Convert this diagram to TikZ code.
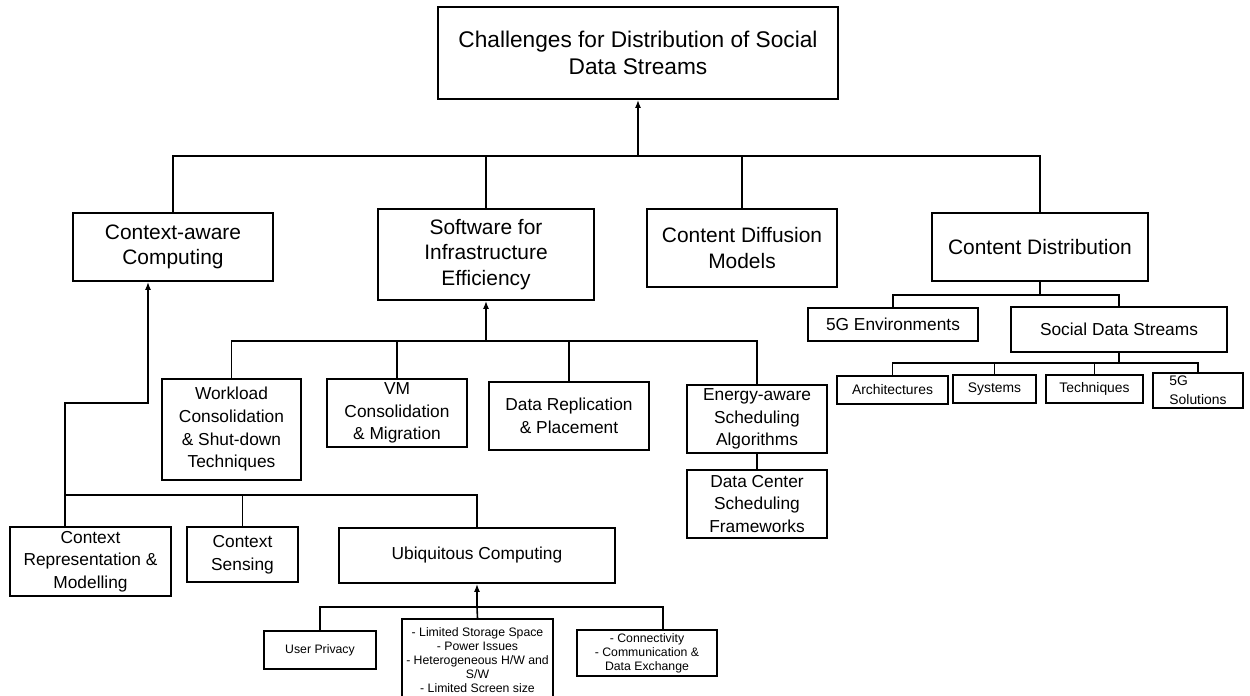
\documentclass[tikz,border=0pt]{standalone}
\usepackage{fontspec}
\setmainfont{Liberation Sans}
\usepackage{tikz}
\usetikzlibrary{arrows.meta}

\begin{document}
\begin{tikzpicture}[x=0.75pt,y=-0.75pt,
  box/.style={draw,line width=1.3pt,align=center,inner sep=1pt},
  topfont/.style={font=\fontsize{17}{20.3}\selectfont},
  mainfont/.style={font=\fontsize{15.7}{19}\selectfont},
  subfont/.style={font=\fontsize{13}{17}\selectfont},
  leaffont/.style={font=\fontsize{10.4}{14.3}\selectfont},
  notefont/.style={font=\fontsize{9.2}{10.6}\selectfont},
  link/.style={line width=1.2pt},
  uplink/.style={line width=1.8pt,-{Latex[length=6pt,width=4.5pt]}}]
  \useasboundingbox (0,0) rectangle (1250,696);
  % root
  \node[box,topfont,minimum width=300pt,minimum height=69pt] (root) at (638,53)
    {Challenges for Distribution of Social\\Data Streams};
  % first level
  \node[box,mainfont,minimum width=150pt,minimum height=51pt] (ctx) at (173,247) {Context-aware\\Computing};
  \node[box,mainfont,minimum width=162pt,minimum height=68.25pt] (soft) at (486,254.5) {Software for\\Infrastructure\\Efficiency};
  \node[box,mainfont,minimum width=142.5pt,minimum height=58.5pt] (diff) at (742,248) {Content Diffusion\\Models};
  \node[box,mainfont,minimum width=162pt,minimum height=51pt] (dist) at (1040,247) {Content Distribution};
  \coordinate (rbus) at (638,156);
  \draw[link] (ctx.north) |- (rbus) -| (dist.north);
  \draw[link] (soft.north) |- (rbus);
  \draw[link] (diff.north) |- (rbus);
  \draw[uplink] (rbus) -- (root.south);
  % content distribution
  \node[box,subfont,minimum width=127.5pt,minimum height=24.75pt] (env) at (893,324.5) {5G Environments};
  \node[box,subfont,minimum width=162pt,minimum height=33.75pt] (sds) at (1119,329.5) {Social Data Streams};
  \node[box,leaffont,minimum width=83.25pt,minimum height=21pt] (arch) at (892.5,390) {Architectures};
  \node[box,leaffont,minimum width=62.25pt,minimum height=21pt] (sys) at (994.5,389) {Systems};
  \node[box,leaffont,minimum width=72.75pt,minimum height=21pt] (tech) at (1094.5,389) {Techniques};
  \node[box,leaffont,align=left,inner sep=0pt,minimum width=67.5pt,minimum height=26.25pt] (sol) at (1198,390.5) {5G\\Solutions};
  \coordinate (dbus) at (1040,295);
  \draw[line width=1.7pt] (dist.south) -- (dbus);
  \draw[link] (env.north) |- (dbus) -| (sds.north);
  \coordinate (sbus) at (1119,363);
  \draw[line width=1.7pt] (sds.south) -- (sbus);
  \draw[link] (arch.north) |- (sbus) -| (sol.north);
  \draw[link] (sys.north) |- (sbus);
  \draw[link] (tech.north) |- (sbus);
  % software
  \node[box,subfont,minimum width=104.25pt,minimum height=75.75pt] (work) at (231.5,429.5) {Workload\\Consolidation\\\& Shut-down\\Techniques};
  \node[box,subfont,minimum width=105pt,minimum height=51pt] (vm) at (397,413) {VM\\Consolidation\\\& Migration};
  \node[box,subfont,minimum width=120pt,minimum height=51pt] (repl) at (569,416) {Data Replication\\\& Placement};
  \node[box,subfont,minimum width=105pt,minimum height=51pt] (energy) at (757,419) {Energy-aware\\Scheduling\\Algorithms};
  \node[box,subfont,minimum width=105pt,minimum height=51pt] (dc) at (757,504) {Data Center\\Scheduling\\Frameworks};
  \coordinate (wbus) at (486,341);
  \draw[link] (work.north) |- (wbus) -| (energy.north);
  \draw[link] (vm.north) |- (wbus);
  \draw[link] (repl.north) |- (wbus);
  \draw[uplink] (wbus) -- (soft.south);
  \draw[line width=2.2pt] (energy.south) -- (dc.north);
  % context-aware
  \node[box,subfont,minimum width=120.75pt,minimum height=51.75pt] (rep) at (90.5,561.5) {Context\\Representation \&\\Modelling};
  \node[box,subfont,minimum width=83.25pt,minimum height=41.25pt] (sens) at (242.5,554.5) {Context\\Sensing};
  \node[box,subfont,minimum width=207pt,minimum height=41.25pt] (ubi) at (477,555.5) {Ubiquitous Computing};
  \coordinate (cbus) at (65,495);
  \coordinate (cbend) at (148,403);
  \draw[link,-{Latex[length=6pt,width=4.5pt]}] (cbus) |- (cbend) -- (cbend |- ctx.south);
  \draw[link] (cbus) -- (cbus |- rep.north);
  \draw[link] (cbus) -| (ubi.north);
  \draw[link] (sens.north) |- (cbus);
  % ubiquitous
  \node[box,notefont,minimum width=84pt,minimum height=28.5pt] (priv) at (320,650) {User Privacy};
  \node[box,notefont,inner sep=0pt,minimum width=113.25pt,minimum height=61.5pt] (lim) at (477.5,660)
    {- Limited Storage Space\\- Power Issues\\- Heterogeneous H/W and\\S/W\\- Limited Screen size};
  \node[box,notefont,minimum width=105pt,minimum height=34.5pt] (conn) at (647,653)
    {- Connectivity\\- Communication \&\\Data Exchange};
  \coordinate (ubus) at (477,607);
  \coordinate (cdrop) at (663,607);
  \draw[link] (priv.north) |- (ubus) -- (cdrop) -- (cdrop |- conn.north);
  \draw[link] (lim.north) -- (ubus);
  \draw[uplink] (ubus) -- (ubi.south);
\end{tikzpicture}
\end{document}
